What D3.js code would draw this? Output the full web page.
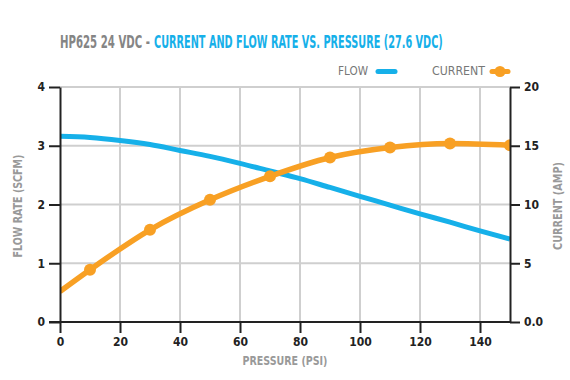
<html>
<head>
<script src="https://d3js.org/d3.v7.min.js"></script>
<style>
  body { margin:0; background:#fff; }
  text { font-family:"DejaVu Sans Condensed","Liberation Sans Narrow","Liberation Sans",sans-serif; font-stretch:condensed; }
  .tick text { font-weight:bold; font-size:12px; fill:#222; }
  .tick line { stroke:#222; stroke-width:2; }
  .domain { stroke:#222; stroke-width:2; }
  .grid line { stroke:#cfcfcf; stroke-width:2; }
  .lbl { font-weight:bold; font-size:12px; fill:#999; }
</style>
</head>
<body>
<div id="chart"></div>
<script>
var pressureTicks = [0, 20, 40, 60, 80, 100, 120, 140];
var flowTicks = [0, 1, 2, 3, 4];
var ampTicks = [0, 5, 10, 15, 20];

var flowPsi = [0, 10, 20, 30, 40, 50, 60, 70, 80, 90, 100, 110, 120, 130, 140, 150];
var flowScfm = [3.16, 3.14, 3.09, 3.02, 2.92, 2.82, 2.70, 2.57, 2.44, 2.29, 2.14, 1.99, 1.84, 1.70, 1.55, 1.41];

var currentPsi = [0, 10, 30, 50, 70, 90, 110, 130, 150];
var currentAmp = [2.6, 4.45, 7.85, 10.4, 12.4, 14.0, 14.85, 15.2, 15.05];
var markerPsi = [10, 30, 50, 70, 90, 110, 130, 150];

var width = 570, height = 380;
var blue = "#16b0e9", orange = "#f8a024";

var svg = d3.select("#chart").append("svg")
  .attr("width", width).attr("height", height);

var x = d3.scaleLinear().domain([0, 150]).range([60, 510]);
var yL = d3.scaleLinear().domain([0, 4]).range([322, 87]);
var yR = d3.scaleLinear().domain([0, 20]).range([322, 87]);

// squeeze a text to a given width (condensed look) with a transform
function fit(t, tx, ty, w, rot) {
  var len = t.node().getComputedTextLength();
  var s = w / len;
  t.attr("transform", "translate(" + tx + "," + ty + ")" + (rot ? " rotate(" + rot + ")" : "") + " scale(" + s + ",1)");
  return t;
}

// grid
var grid = svg.append("g").attr("class", "grid");
grid.selectAll(".v").data(pressureTicks.slice(1)).enter().append("line")
  .attr("x1", d => x(d)).attr("x2", d => x(d)).attr("y1", 87).attr("y2", 322);
grid.selectAll(".h").data(flowTicks.slice(1)).enter().append("line")
  .attr("x1", 60).attr("x2", 510).attr("y1", d => yL(d)).attr("y2", d => yL(d));

// clip
svg.append("clipPath").attr("id", "clip").append("rect")
  .attr("x", 60).attr("y", 80).attr("width", 450).attr("height", 250);

var plot = svg.append("g").attr("clip-path", "url(#clip)");

var flowLine = d3.line().x((d, i) => x(flowPsi[i])).y(d => yL(d)).curve(d3.curveMonotoneX);
plot.append("path").datum(flowScfm)
  .attr("d", flowLine).attr("fill", "none").attr("stroke", blue).attr("stroke-width", 5);

var curLine = d3.line().x((d, i) => x(currentPsi[i])).y(d => yR(d)).curve(d3.curveMonotoneX);
plot.append("path").datum(currentAmp)
  .attr("d", curLine).attr("fill", "none").attr("stroke", orange).attr("stroke-width", 5.5);

plot.selectAll(".m").data(markerPsi).enter().append("circle")
  .attr("cx", d => x(d))
  .attr("cy", d => yR(currentAmp[currentPsi.indexOf(d)]))
  .attr("r", 6).attr("fill", orange);

// axes
svg.append("g").attr("transform", "translate(0,322)")
  .call(d3.axisBottom(x).tickValues(pressureTicks).tickSize(11).tickSizeOuter(0).tickPadding(4))
  .call(g => g.select(".domain").attr("d", "M49,0H510"));

svg.append("g").attr("transform", "translate(60,0)")
  .call(d3.axisLeft(yL).tickValues(flowTicks).tickSize(11).tickSizeOuter(0).tickPadding(4).tickFormat(d3.format("d")));

svg.append("g").attr("transform", "translate(510,0)")
  .call(d3.axisRight(yR).tickValues(ampTicks).tickSize(10).tickSizeOuter(0).tickPadding(4)
    .tickFormat(d => d === 0 ? "0.0" : d));

// axis labels
fit(svg.append("text").attr("class", "lbl").attr("text-anchor", "middle").text("FLOW RATE (SCFM)"), 22, 206, 103, -90);
fit(svg.append("text").attr("class", "lbl").attr("text-anchor", "middle").text("CURRENT (AMP)"), 562, 206, 88, -90);
fit(svg.append("text").attr("class", "lbl").attr("text-anchor", "middle").text("PRESSURE (PSI)"), 285, 365, 85);

// title
fit(svg.append("text")
  .style("font-size", "18px").style("font-weight", "bold")
  .attr("fill", "#858585").text("HP625 24 VDC -"), 60, 48, 90);
fit(svg.append("text")
  .style("font-size", "18px").style("font-weight", "bold")
  .attr("fill", blue).text("CURRENT AND FLOW RATE VS. PRESSURE (27.6 VDC)"), 154, 48, 289);

// legend
fit(svg.append("text").style("font-size", "12px").attr("fill", "#777").text("FLOW"), 338, 75, 30);
svg.append("line").attr("x1", 378).attr("x2", 395).attr("y1", 71.5).attr("y2", 71.5)
  .attr("stroke", blue).attr("stroke-width", 5).attr("stroke-linecap", "round");
fit(svg.append("text").style("font-size", "12px").attr("fill", "#777").text("CURRENT"), 432, 75, 53);
svg.append("line").attr("x1", 492).attr("x2", 508).attr("y1", 71.5).attr("y2", 71.5)
  .attr("stroke", orange).attr("stroke-width", 5).attr("stroke-linecap", "round");
svg.append("circle").attr("cx", 500).attr("cy", 71.5).attr("r", 5.5).attr("fill", orange);
</script>
</body>
</html>
